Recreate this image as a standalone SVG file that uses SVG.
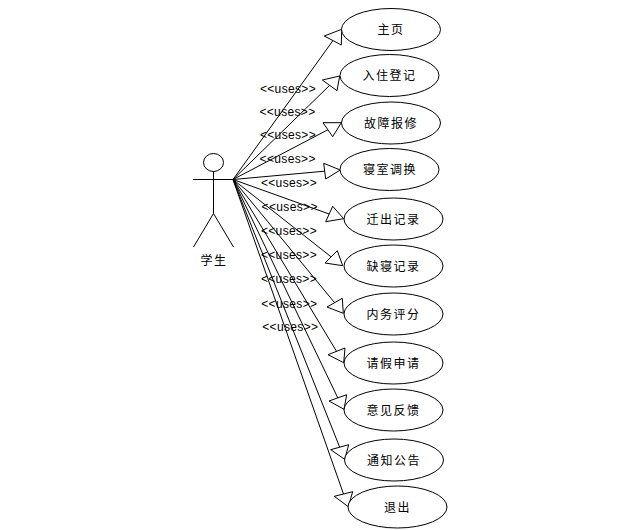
<svg xmlns="http://www.w3.org/2000/svg" width="626" height="530" viewBox="0 0 626 530">
<style>
.s{fill:none;stroke:#000;stroke-width:1}
.n{fill:#fff;stroke:#000;stroke-width:1}
.h{fill:#fff;stroke:#000;stroke-width:1}
.t{font-family:"Liberation Sans","Noto Sans CJK SC",sans-serif;font-size:12px;letter-spacing:1.5px;text-anchor:middle;fill:#000}
.u{font-family:"Liberation Sans",sans-serif;font-size:12px;letter-spacing:.35px;text-anchor:middle;fill:#000}
</style>
<rect width="626" height="530" fill="#fff"/>
<g id="connectors">
<line class="s" x1="233" y1="179.5" x2="333" y2="40.5"/><polygon class="h" points="341.7,29.3 324.3,36 341.3,45"/>
<line class="s" x1="233" y1="179.5" x2="329.7" y2="85.3"/><polygon class="h" points="339.7,76 322.3,80 337,90.7"/>
<line class="s" x1="233" y1="179.5" x2="328" y2="129.7"/><polygon class="h" points="341.3,122.7 323,122.7 332.7,136.7"/>
<line class="s" x1="233" y1="179.5" x2="324.7" y2="171.2"/><polygon class="h" points="340.3,170 323.7,163.3 325.7,179"/>
<line class="s" x1="233" y1="179.5" x2="329.2" y2="214"/><polygon class="h" points="343.7,218.7 332.7,206.3 325.7,221.7"/>
<line class="s" x1="233" y1="179.5" x2="331.2" y2="256.9"/><polygon class="h" points="342.7,265.7 337.3,250.7 325,263"/>
<line class="s" x1="233" y1="179.5" x2="334.6" y2="302.7"/><polygon class="h" points="343.3,313.3 342.3,298.3 327,307"/>
<line class="s" x1="233" y1="179.5" x2="336.5" y2="351.3"/><polygon class="h" points="343.7,362.7 345,348 328,354.7"/>
<line class="s" x1="233" y1="179.5" x2="337.8" y2="397.9"/><polygon class="h" points="344,409.3 346.7,394.7 329,401"/>
<line class="s" x1="233" y1="179.5" x2="339.7" y2="447.2"/><polygon class="h" points="344.7,459.3 348.7,444.7 330.7,449.7"/>
<line class="s" x1="233" y1="179.5" x2="343.5" y2="494"/><polygon class="h" points="348.3,506.7 352.7,491.7 334.3,496.3"/>
</g>
<g id="labels">
<text class="u" x="288" y="92.5">&lt;&lt;uses&gt;&gt;</text>
<text class="u" x="287.5" y="116">&lt;&lt;uses&gt;&gt;</text>
<text class="u" x="288" y="139">&lt;&lt;uses&gt;&gt;</text>
<text class="u" x="287.7" y="163">&lt;&lt;uses&gt;&gt;</text>
<text class="u" x="289" y="186.5">&lt;&lt;uses&gt;&gt;</text>
<text class="u" x="289.7" y="210.5">&lt;&lt;uses&gt;&gt;</text>
<text class="u" x="289" y="234.5">&lt;&lt;uses&gt;&gt;</text>
<text class="u" x="289" y="258.5">&lt;&lt;uses&gt;&gt;</text>
<text class="u" x="289" y="282.5">&lt;&lt;uses&gt;&gt;</text>
<text class="u" x="289.3" y="307.5">&lt;&lt;uses&gt;&gt;</text>
<text class="u" x="290.3" y="330.5">&lt;&lt;uses&gt;&gt;</text>
</g>
<g id="actor">
<ellipse class="n" cx="213.5" cy="162.5" rx="10" ry="9"/>
<line class="s" x1="213.5" y1="171.5" x2="213.5" y2="213.5"/>
<line class="s" x1="193" y1="179.5" x2="233" y2="179.5"/>
<line class="s" x1="213.5" y1="213.5" x2="193.5" y2="247"/>
<line class="s" x1="213.5" y1="213.5" x2="233.5" y2="247"/>
<text class="t" x="214" y="265">学生</text>
</g>
<g id="n1"><ellipse class="n" cx="391" cy="29.5" rx="49.5" ry="21"/><text class="t" x="391" y="34">主页</text></g>
<g id="n2"><ellipse class="n" cx="389.5" cy="75.5" rx="49.5" ry="21"/><text class="t" x="389.5" y="80">入住登记</text></g>
<g id="n3"><ellipse class="n" cx="391" cy="123" rx="49.5" ry="21"/><text class="t" x="391" y="127.5">故障报修</text></g>
<g id="n4"><ellipse class="n" cx="389.5" cy="169.5" rx="49.5" ry="21"/><text class="t" x="390" y="174">寝室调换</text></g>
<g id="n5"><ellipse class="n" cx="393.5" cy="219" rx="49.5" ry="21"/><text class="t" x="393.5" y="223.5">迁出记录</text></g>
<g id="n6"><ellipse class="n" cx="393.5" cy="266" rx="49.5" ry="21"/><text class="t" x="393.5" y="270.5">缺寝记录</text></g>
<g id="n7"><ellipse class="n" cx="393.5" cy="314" rx="49.5" ry="21"/><text class="t" x="393.5" y="318.5">内务评分</text></g>
<g id="n8"><ellipse class="n" cx="393.5" cy="363" rx="49.5" ry="21"/><text class="t" x="393.5" y="367.5">请假申请</text></g>
<g id="n9"><ellipse class="n" cx="393.5" cy="410" rx="49.5" ry="21"/><text class="t" x="393.5" y="414.5">意见反馈</text></g>
<g id="n10"><ellipse class="n" cx="394" cy="460" rx="49.5" ry="21"/><text class="t" x="394" y="464.5">通知公告</text></g>
<g id="n11"><ellipse class="n" cx="397.5" cy="507" rx="49.5" ry="21"/><text class="t" x="397.5" y="511.5">退出</text></g>
</svg>
